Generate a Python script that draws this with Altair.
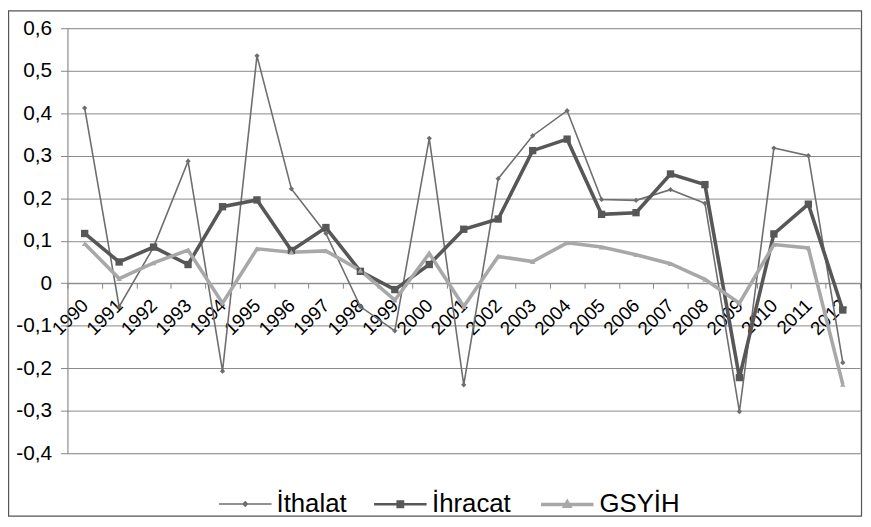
import altair as alt
import pandas as pd

years = [str(y) for y in range(1990, 2013)]
ithalat = [0.412, -0.055, 0.085, 0.287, -0.207, 0.535, 0.222, 0.117, -0.055, -0.112,
           0.341, -0.239, 0.246, 0.347, 0.406, 0.197, 0.195, 0.220, 0.188, -0.302,
           0.318, 0.300, -0.187]
ihracat = [0.117, 0.050, 0.085, 0.044, 0.180, 0.196, 0.077, 0.131, 0.028, -0.015,
           0.044, 0.127, 0.151, 0.312, 0.339, 0.162, 0.166, 0.257, 0.232, -0.222,
           0.116, 0.186, -0.063]
gsyih = [0.093, 0.011, 0.048, 0.078, -0.047, 0.081, 0.073, 0.076, 0.030, -0.040,
         0.070, -0.055, 0.063, 0.051, 0.095, 0.085, 0.067, 0.046, 0.009, -0.047,
         0.091, 0.083, -0.238]
series = ["İthalat", "İhracat", "GSYİH"]
colors = ["#6e6e6e", "#575757", "#a8a8a8"]
widths = [1.6, 3.6, 3.6]
shapes = ["diamond", "square", "triangle-up"]
marker_sizes = [28, 55, 30]
# legend symbols: a line with the series marker in its middle
legend_paths = [
    "M-1,0H1M0,-0.08L0.08,0L0,0.08L-0.08,0Z",
    "M-1,0H1M-0.1,-0.1H0.1V0.1H-0.1ZM-0.05,-0.05H0.05V0.05H-0.05Z",
    "M-1,0H1M0,-0.09L0.09,0.07H-0.09ZM0,-0.03L0.03,0.03H-0.03Z",
]
y_ticks = [-0.4, -0.3, -0.2, -0.1, 0.0, 0.1, 0.2, 0.3, 0.4, 0.5, 0.6]

rows = []
for name, vals in zip(series, [ithalat, ihracat, gsyih]):
    for yr, v in zip(years, vals):
        rows.append({"Yil": yr, "Deger": v, "Seri": name})
df = pd.DataFrame(rows)

W, H = 800, 429
FONT = "Liberation Sans"

x_enc = alt.X("Yil:O", sort=years, bandPosition=0.5,
              scale=alt.Scale(type="band", paddingInner=0, paddingOuter=0),
              axis=alt.Axis(title=None, grid=False, offset=-H * 0.4,
                            tickBand="extent", tickSize=5, tickColor="#868686",
                            domainColor="#868686", labelAngle=315,
                            labelAlign="right", labelBaseline="middle",
                            labelPadding=14, labelFontSize=19, labelColor="#000000",
                            labelFont=FONT, labelOverlap=False, labelFlush=False))
y_enc = alt.Y("Deger:Q", scale=alt.Scale(domain=[-0.4, 0.6], nice=False, zero=False),
              axis=alt.Axis(title=None, values=y_ticks, grid=True, gridColor="#8a8a8a",
                            gridWidth=1, domainColor="#868686", tickColor="#868686",
                            tickSize=7, labelPadding=9, labelFontSize=21,
                            labelColor="#000000", labelFont=FONT,
                            labelExpr="datum.value == 0 ? '0' : replace(replace(format(datum.value, '.1f'), '.', ','), '\u2212', '-')"))

layers = []
for name, col, w in zip(series, colors, widths):
    layers.append(
        alt.Chart(df).transform_filter(alt.datum.Seri == name)
        .mark_line(color=col, strokeWidth=w)
        .encode(x=x_enc, y=y_enc, order=alt.Order("Yil:O"))
    )
for name, col, shp, sz in zip(series, colors, shapes, marker_sizes):
    layers.append(
        alt.Chart(df).transform_filter(alt.datum.Seri == name)
        .mark_point(filled=True, opacity=1, color=col, shape=shp, size=sz)
        .encode(x=x_enc, y=y_enc)
    )

# legend-only layer (no visible data), entries come from the scale domains
leg = alt.Legend(title=None, orient="none", direction="horizontal",
                 legendX=152, legendY=452, symbolSize=2809, symbolOpacity=1,
                 labelFontSize=26, labelFont=FONT, labelColor="#000000",
                 columnPadding=22, labelOffset=4)
legend_layer = alt.Chart(df).transform_filter("false").mark_point(filled=False).encode(
    x=x_enc, y=y_enc,
    color=alt.Color("Seri:N", sort=series, scale=alt.Scale(domain=series, range=colors), legend=leg),
    shape=alt.Shape("Seri:N", sort=series, scale=alt.Scale(domain=series, range=legend_paths), legend=leg),
    strokeWidth=alt.StrokeWidth("Seri:N", sort=series, scale=alt.Scale(domain=series, range=widths), legend=leg),
)
layers.append(legend_layer)

border = alt.Chart(pd.DataFrame({"a": [0]})).mark_rect(
    fill=None, stroke="#555555", strokeWidth=1.2
).encode(x=alt.value(-59.4), x2=alt.value(801.5), y=alt.value(-17.4), y2=alt.value(492.5))
layers.append(border)

chart = alt.layer(*layers).properties(
    width=W, height=H,
    autosize=alt.AutoSizeParams(type="none"),
    padding={"left": 60, "top": 18, "right": 3, "bottom": 64},
).configure_view(stroke=None).configure(background="white")

chart.save("out.html", embed_options={"renderer": "svg", "actions": False})
